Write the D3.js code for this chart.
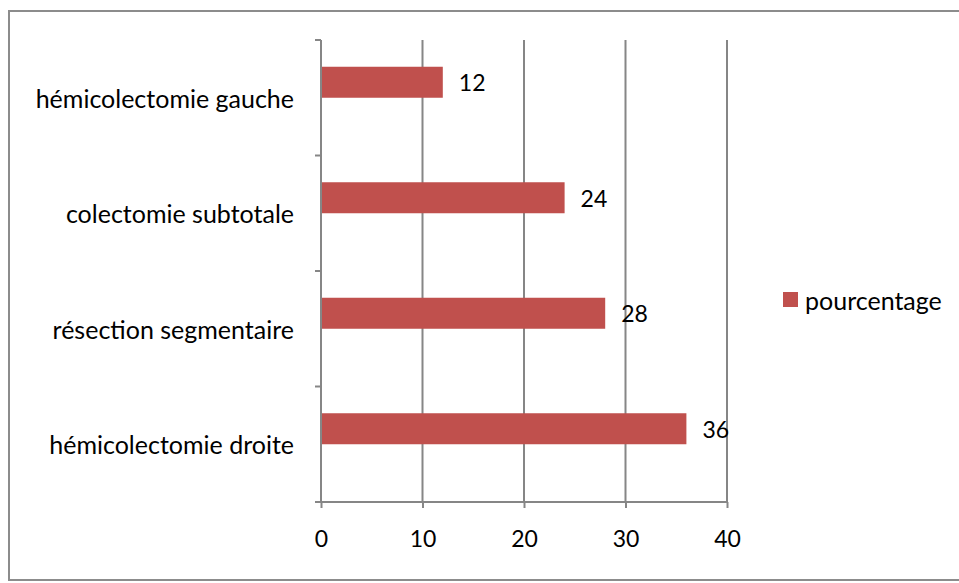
<!DOCTYPE html>
<html>
<head>
<meta charset="utf-8">
<script src="https://cdn.jsdelivr.net/npm/d3@7"></script>
<style>
  html, body { margin: 0; padding: 0; background: #fff; }
  svg { display: block; }
  text { font-family: Lato, "Open Sans", sans-serif; fill: #000; }
</style>
</head>
<body>
<svg id="chart" width="959" height="583"></svg>
<script>
// Interventions (top to bottom as displayed)
const categories = [
  "hémicolectomie gauche",
  "colectomie subtotale",
  "résection segmentaire",
  "hémicolectomie droite"
];
const pourcentage = [12, 24, 28, 36];
const seriesNames = ["pourcentage"];
const xTicks = [0, 10, 20, 30, 40];

const svg = d3.select("#chart");
const W = 959, H = 583;
const textSize = 25;   // category names and legend
const numberSize = 23; // axis numbers and value labels
const barColor = "#C0504D";
const lineColor = "#868686";

// Chart frame
svg.append("rect")
  .attr("x", 9).attr("y", 11)
  .attr("width", W + 10).attr("height", 569)
  .attr("fill", "#fff")
  .attr("stroke", "#8c8c8c")
  .attr("stroke-width", 2);

const plot = { left: 321, right: 727, top: 40, bottom: 502 };

const x = d3.scaleLinear()
  .domain([xTicks[0], xTicks[xTicks.length - 1]])
  .range([plot.left, plot.right]);

const y = d3.scaleBand()
  .domain(categories)
  .range([plot.top, plot.bottom])
  .padding(0);

// Each category slot holds room for two bar positions; the series sits in the upper one
const slot = d3.scaleBand()
  .domain([seriesNames[0], "_"])
  .range([0, y.bandwidth()])
  .paddingInner(0)
  .paddingOuter(0.863);

// Vertical gridlines
svg.append("g")
  .selectAll("line")
  .data(xTicks.slice(1))
  .join("line")
  .attr("x1", d => x(d)).attr("x2", d => x(d))
  .attr("y1", plot.top).attr("y2", plot.bottom)
  .attr("stroke", lineColor)
  .attr("stroke-width", 2);

// Bars
svg.append("g")
  .selectAll("rect")
  .data(pourcentage)
  .join("rect")
  .attr("x", x(0))
  .attr("y", (d, i) => y(categories[i]) + slot(seriesNames[0]))
  .attr("width", d => x(d) - x(0))
  .attr("height", slot.bandwidth())
  .attr("fill", barColor);

// Value labels
svg.append("g")
  .selectAll("text")
  .data(pourcentage)
  .join("text")
  .attr("x", d => x(d) + 16)
  .attr("y", (d, i) => y(categories[i]) + slot(seriesNames[0]) + slot.bandwidth() / 2)
  .attr("dominant-baseline", "central")
  .attr("font-size", numberSize)
  .text(d => d);

// X axis
const xAxis = d3.axisBottom(x)
  .tickValues(xTicks)
  .tickSize(6)
  .tickPadding(23)
  .tickFormat(d3.format("d"));
const gx = svg.append("g")
  .attr("transform", `translate(0,${plot.bottom})`)
  .call(xAxis);
gx.select(".domain").attr("stroke", lineColor).attr("stroke-width", 2)
  .attr("d", `M${plot.left},0H${plot.right}`);
gx.selectAll(".tick line").attr("stroke", lineColor).attr("stroke-width", 2);
gx.selectAll(".tick text")
  .attr("font-size", numberSize)
  .attr("font-family", "Lato, sans-serif")
  .attr("fill", "#000");

// Y axis: ticks sit on category boundaries
const yBoundaries = categories.map(c => y(c)).concat([plot.bottom]);
const gy = svg.append("g");
gy.append("line")
  .attr("x1", plot.left).attr("x2", plot.left)
  .attr("y1", plot.top).attr("y2", plot.bottom)
  .attr("stroke", lineColor).attr("stroke-width", 2);
gy.selectAll("line.tick")
  .data(yBoundaries)
  .join("line")
  .attr("class", "tick")
  .attr("x1", plot.left - 6).attr("x2", plot.left)
  .attr("y1", d => d).attr("y2", d => d)
  .attr("stroke", lineColor).attr("stroke-width", 2);
gy.selectAll("text")
  .data(categories)
  .join("text")
  .attr("x", plot.left - 27)
  .attr("y", d => y(d) + y.bandwidth() / 2)
  .attr("text-anchor", "end")
  .attr("dominant-baseline", "central")
  .attr("font-size", textSize)
  .text(d => d);

// Legend
const legend = svg.append("g").attr("transform", "translate(783,292)");
legend.append("rect")
  .attr("width", 15).attr("height", 15)
  .attr("fill", barColor);
legend.append("text")
  .attr("x", 22).attr("y", 7.5)
  .attr("dominant-baseline", "central")
  .attr("font-size", textSize)
  .text(seriesNames[0]);
</script>
</body>
</html>
